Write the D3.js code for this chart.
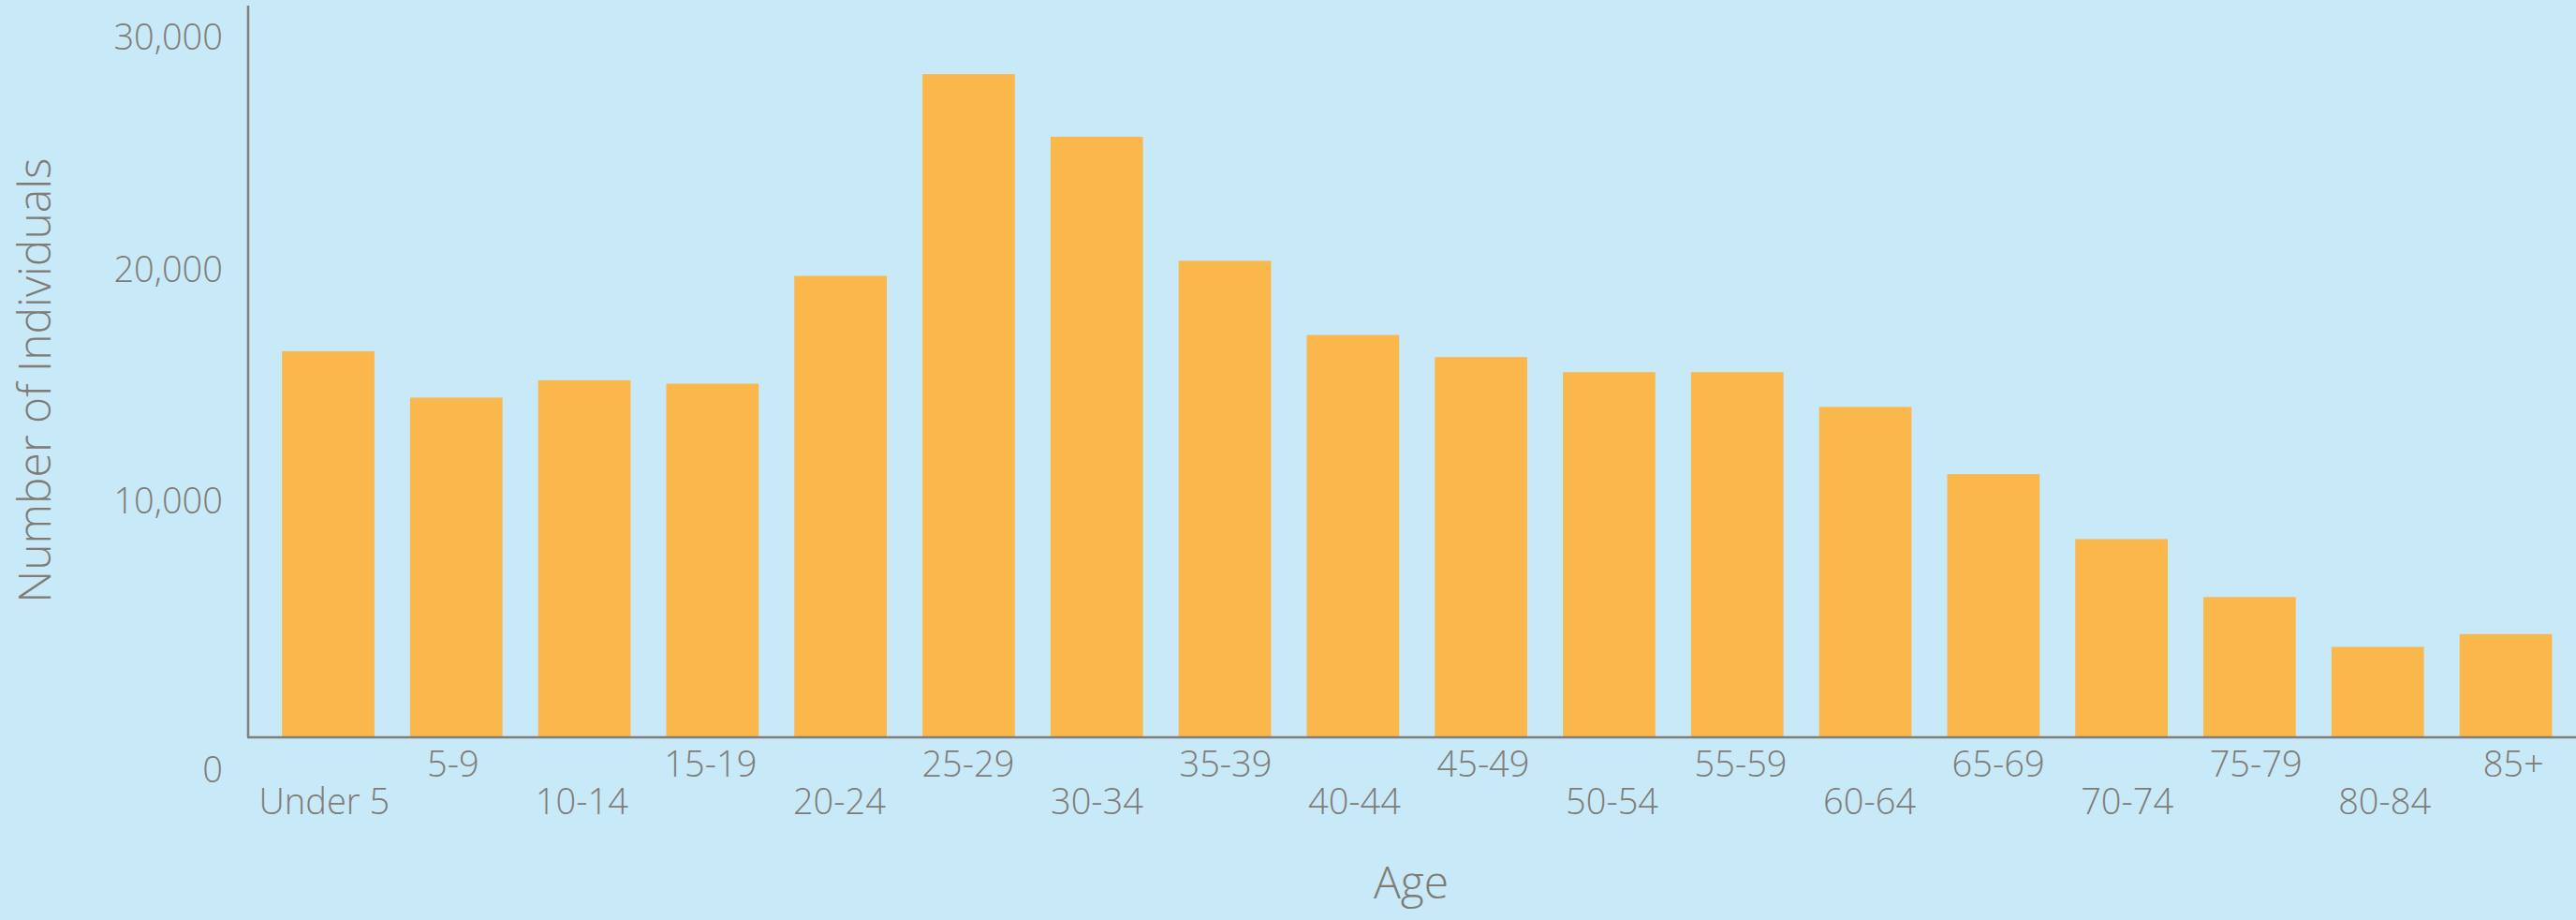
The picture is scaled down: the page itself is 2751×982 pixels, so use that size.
<!DOCTYPE html>
<html>
<head>
<meta charset="utf-8">
<script src="https://cdn.jsdelivr.net/npm/d3@7"></script>
<style>
  html, body { margin: 0; padding: 0; background: #c7e9f8; }
  svg { display: block; }
  text { font-family: "Open Sans", "Noto Sans", sans-serif; font-weight: 300; fill: #817b76; }
</style>
</head>
<body>
<svg id="chart" width="2751" height="982"></svg>
<script>
// Population by age group
const ageGroups = ["Under 5", "5-9", "10-14", "15-19", "20-24", "25-29", "30-34", "35-39",
  "40-44", "45-49", "50-54", "55-59", "60-64", "65-69", "70-74", "75-79", "80-84", "85+"];
const individuals = [16650, 14650, 15400, 15250, 19900, 28600, 25900, 20550,
  17350, 16400, 15750, 15750, 14250, 11350, 8550, 6050, 3900, 4450];
const yTickValues = [0, 10000, 20000, 30000];
const yTitle = "Number of Individuals";
const xTitle = "Age";

const W = 2751, H = 982;
const axisX = 265, baseY = 787, topY = 6;
const axisColor = "#837e79";

const svg = d3.select("#chart");
svg.append("rect").attr("width", W).attr("height", H).attr("fill", "#c7e9f8");

const x = d3.scaleBand()
  .domain(ageGroups)
  .range([axisX, 2761.5])
  .paddingInner(0.2785)
  .paddingOuter(0.264);

// category labels sit on a slightly wider band than the bars
const xLabel = d3.scalePoint()
  .domain(ageGroups)
  .range([345.8, 2683.7]);

const y = d3.scaleLinear()
  .domain([0, 30000])
  .range([baseY, baseY - 742.5]);

// bars
svg.append("g")
  .selectAll("rect")
  .data(individuals)
  .join("rect")
  .attr("x", (d, i) => x(ageGroups[i]))
  .attr("width", x.bandwidth())
  .attr("y", d => y(d))
  .attr("height", d => y(0) - y(d))
  .attr("fill", "#fab84c");

// y axis: tick labels only, line drawn separately to span full height
const yAxis = svg.append("g")
  .attr("transform", `translate(${axisX},0)`)
  .call(d3.axisLeft(y).tickValues(yTickValues).tickSize(0).tickPadding(27)
    .tickFormat(d3.format(",")));
yAxis.select(".domain").remove();
yAxis.selectAll("text")
  .attr("font-size", 38)
  .attr("font-family", null)
  .attr("dy", d => d === 0 ? 47 : 8);

svg.append("line")
  .attr("x1", axisX).attr("x2", axisX)
  .attr("y1", topY).attr("y2", baseY)
  .attr("stroke", axisColor).attr("stroke-width", 2.5);

// x axis: staggered category labels
const xAxis = svg.append("g")
  .attr("transform", `translate(0,${baseY})`)
  .call(d3.axisBottom(xLabel).tickSize(0).tickPadding(0));
xAxis.select(".domain").remove();
xAxis.selectAll("text")
  .attr("font-size", 38)
  .attr("font-family", null)
  .attr("y", 0)
  .attr("dy", (d, i) => i % 2 === 0 ? 82 : 42);

svg.append("line")
  .attr("x1", axisX - 1).attr("x2", W)
  .attr("y1", baseY).attr("y2", baseY)
  .attr("stroke", axisColor).attr("stroke-width", 2.5);

// axis titles
svg.append("text")
  .attr("transform", `translate(54,406) rotate(-90)`)
  .attr("text-anchor", "middle")
  .attr("font-size", 48)
  .text(yTitle);

svg.append("text")
  .attr("x", 1507).attr("y", 959)
  .attr("text-anchor", "middle")
  .attr("font-size", 48)
  .text(xTitle);
</script>
</body>
</html>
